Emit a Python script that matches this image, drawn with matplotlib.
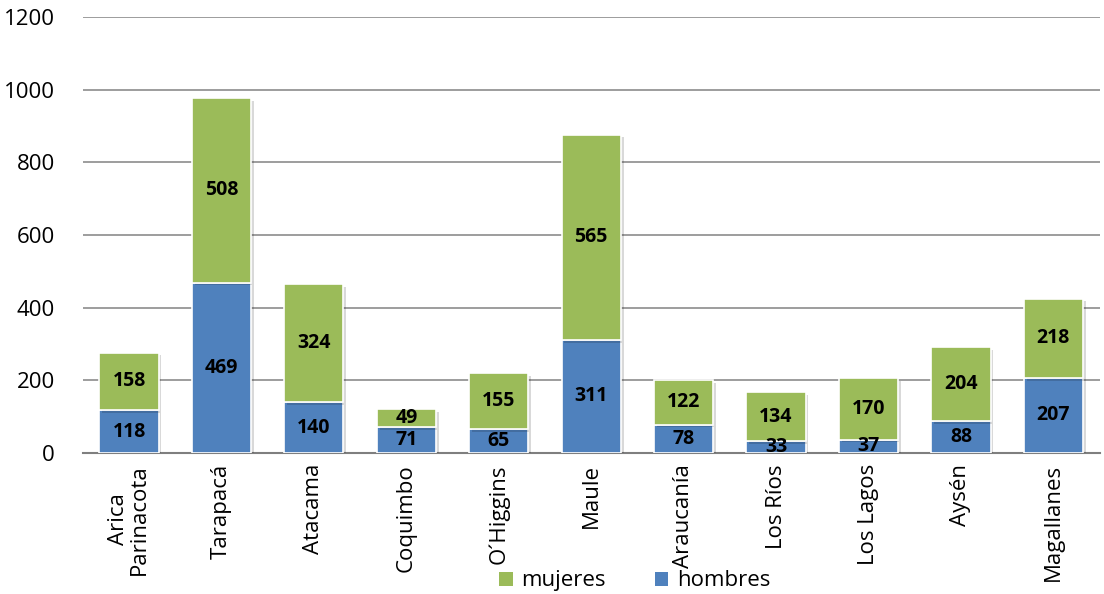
import matplotlib
matplotlib.use("Agg")
import matplotlib.pyplot as plt
import matplotlib.patheffects as pe
from matplotlib.patches import Patch

categories = ["Arica\nParinacota", "Tarapacá", "Atacama", "Coquimbo", "O´Higgins",
              "Maule", "Araucanía", "Los Ríos", "Los Lagos", "Aysén", "Magallanes"]
hombres = [118, 469, 140, 71, 65, 311, 78, 33, 37, 88, 207]
mujeres = [158, 508, 324, 49, 155, 565, 122, 134, 170, 204, 218]
yticks = [0, 200, 400, 600, 800, 1000, 1200]

blue = "#4F81BD"
green = "#9BBB59"

plt.rcParams['font.family'] = ['Open Sans', 'DejaVu Sans']

fig = plt.figure(figsize=(11.04, 5.94), dpi=100)
ax = fig.add_axes([0.075, 0.2374, 0.921, 0.734])

x = list(range(len(categories)))
shadow = [pe.SimplePatchShadow(offset=(2, -2), shadow_rgbFace="#000000", alpha=0.15), pe.Normal()]
b1 = ax.bar(x, hombres, width=0.64, color=blue, edgecolor="white", linewidth=1.2, zorder=3)
b2 = ax.bar(x, mujeres, width=0.64, bottom=hombres, color=green, edgecolor="white", linewidth=1.2, zorder=3)
for b in list(b1) + list(b2):
    b.set_path_effects(shadow)

for i in x:
    ax.text(i, hombres[i] / 2, str(hombres[i]), ha="center", va="center",
            fontsize=14, fontweight="bold", color="black", zorder=5)
    ax.text(i, hombres[i] + mujeres[i] / 2, str(mujeres[i]), ha="center", va="center",
            fontsize=14, fontweight="bold", color="black", zorder=5)

ax.set_xlim(-0.5, len(categories) - 0.5)
ax.set_ylim(0, 1200)
ax.set_yticks(yticks)
ax.set_yticklabels([str(v) for v in yticks], fontsize=16)
ax.yaxis.grid(True, color="#8c8c8c", linewidth=1.2, zorder=0)
ax.set_axisbelow(True)
ax.tick_params(axis="y", length=0, pad=20)
ax.tick_params(axis="x", length=0, pad=8)
ax.set_xticks(x)
ax.set_xticklabels(categories, rotation=90, fontsize=16, linespacing=1.0)
for s in ["top", "right", "left"]:
    ax.spines[s].set_visible(False)
ax.spines["bottom"].set_color("#7f7f7f")
ax.spines["bottom"].set_linewidth(1.5)

handles = [Patch(facecolor=green, edgecolor="none", label="mujeres"),
           Patch(facecolor=blue, edgecolor="none", label="hombres")]
fig.legend(handles=handles, loc="center", bbox_to_anchor=(0.575, 0.022), ncol=2,
           frameon=False, fontsize=16, handlelength=0.6, handleheight=0.6,
           handletextpad=0.4, columnspacing=2.2)

fig.savefig("out.png", dpi=100)
